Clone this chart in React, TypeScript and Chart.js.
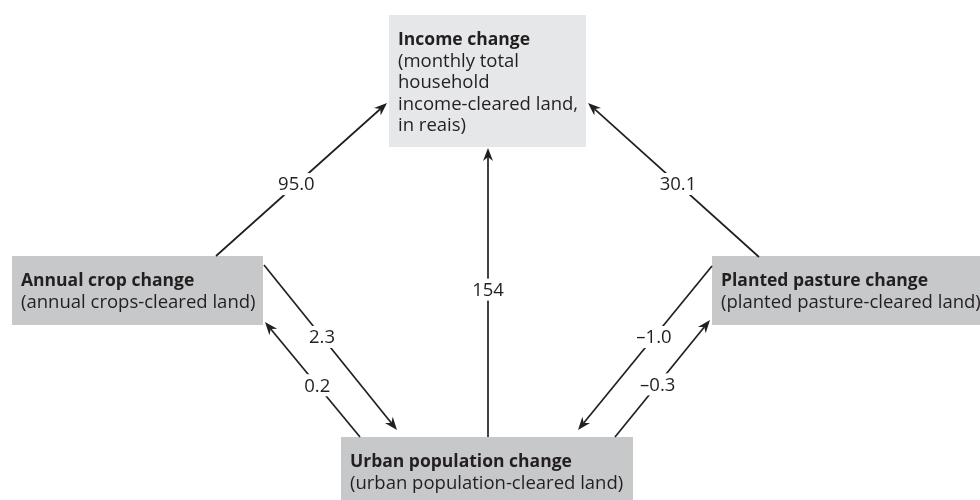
import React, { useEffect, useRef } from "react";
import { Chart, registerables } from "chart.js";

Chart.register(...registerables);

// Nodes (diagram coordinates: x 0..980, y 0..500 top-down)
const nodeTitles = ["Income change", "Annual crop change", "Planted pasture change", "Urban population change"];
const nodeSubtitles = [
  ["(monthly total", "household", "income-cleared land,", "in reais)"],
  ["(annual crops-cleared land)"],
  ["(planted pasture-cleared land)"],
  ["(urban population-cleared land)"],
];
const nodeLeft = [389, 12, 712, 341];
const nodeRight = [586, 263, 1000, 633];
const nodeTop = [15, 256, 256, 437];
const nodeBottom = [147, 325, 325, 520];
const nodeShade = ["light", "dark", "dark", "dark"];

// Edges: path coefficients
const edgeValues = ["95.0", "30.1", "154", "2.3", "0.2", "\u20131.0", "\u20130.3"];
const edgeStartX = [216, 759, 488, 264, 360, 712, 615];
const edgeStartY = [256, 257, 437, 265, 437, 266, 437];
const edgeEndX = [387, 588, 488, 397, 265, 578, 710];
const edgeEndY = [103, 103, 148, 430, 322, 430, 320];
const edgeLabelT = [0.47, 0.474, 0.51, 0.436, 0.45, 0.433, 0.45];

const TEXT = "#231f20";
const FONT = "'Open Sans', 'Noto Sans', sans-serif";

const diagramPlugin = {
  id: "diagram",
  afterDatasetsDraw(chart: any) {
    const ctx = chart.ctx as CanvasRenderingContext2D;
    const xs = chart.scales.x;
    const ys = chart.scales.y;
    const px = (v: number) => xs.getPixelForValue(v);
    const py = (v: number) => ys.getPixelForValue(v);
    ctx.save();
    // boxes
    nodeTitles.forEach((title, i) => {
      const l = px(nodeLeft[i]);
      const r = px(nodeRight[i]);
      const t = py(nodeTop[i]);
      const b = py(nodeBottom[i]);
      ctx.fillStyle = nodeShade[i] === "light" ? "#e6e7e8" : "#c7c8ca";
      ctx.fillRect(l, t, r - l, b - t);
      ctx.fillStyle = TEXT;
      ctx.textAlign = "left";
      ctx.textBaseline = "alphabetic";
      let y = t + 30;
      ctx.font = `bold 17.5px ${FONT}`;
      ctx.fillText(title, l + 9, y);
      ctx.font = `18.5px ${FONT}`;
      nodeSubtitles[i].forEach((s) => {
        y += 21.5;
        ctx.fillText(s, l + 9, y);
      });
    });
    // edges
    edgeValues.forEach((label, i) => {
      const x1 = px(edgeStartX[i]);
      const y1 = py(edgeStartY[i]);
      const x2 = px(edgeEndX[i]);
      const y2 = py(edgeEndY[i]);
      const ang = Math.atan2(y2 - y1, x2 - x1);
      const len = 13;
      const hw = 5;
      const notch = 9;
      const bx = x2 - Math.cos(ang) * notch;
      const by = y2 - Math.sin(ang) * notch;
      ctx.strokeStyle = TEXT;
      ctx.lineWidth = 1.7;
      ctx.beginPath();
      ctx.moveTo(x1, y1);
      ctx.lineTo(bx, by);
      ctx.stroke();
      // arrowhead
      const cx = x2 - Math.cos(ang) * len;
      const cy = y2 - Math.sin(ang) * len;
      const nx = -Math.sin(ang);
      const ny = Math.cos(ang);
      ctx.fillStyle = TEXT;
      ctx.beginPath();
      ctx.moveTo(x2, y2);
      ctx.lineTo(cx + nx * hw, cy + ny * hw);
      ctx.lineTo(bx, by);
      ctx.lineTo(cx - nx * hw, cy - ny * hw);
      ctx.closePath();
      ctx.fill();
      // label
      const t = edgeLabelT[i];
      const lx = x1 + (x2 - x1) * t;
      const ly = y1 + (y2 - y1) * t;
      ctx.font = `18.5px ${FONT}`;
      const w = ctx.measureText(label).width;
      ctx.fillStyle = "#ffffff";
      ctx.fillRect(lx - w / 2 - 2, ly - 11, w + 4, 22);
      ctx.fillStyle = TEXT;
      ctx.textAlign = "center";
      ctx.textBaseline = "middle";
      ctx.fillText(label, lx, ly + 1);
    });
    ctx.restore();
  },
};

export default function App() {
  const ref = useRef<HTMLCanvasElement | null>(null);
  useEffect(() => {
    document.body.style.margin = "0";
    if (!ref.current) return;
    const chart = new Chart(ref.current, {
      type: "scatter",
      data: {
        datasets: [
          {
            data: nodeTitles.map((_, i) => ({
              x: (nodeLeft[i] + nodeRight[i]) / 2,
              y: (nodeTop[i] + nodeBottom[i]) / 2,
            })),
            pointRadius: 0,
          },
        ],
      },
      options: {
        animation: false,
        responsive: false,
        devicePixelRatio: 1,
        layout: { padding: 0 },
        plugins: { legend: { display: false }, tooltip: { enabled: false } },
        events: [],
        scales: {
          x: { type: "linear", min: 0, max: 980, display: false },
          y: { type: "linear", min: 0, max: 500, reverse: true, display: false },
        },
      },
      plugins: [diagramPlugin],
    });
    return () => chart.destroy();
  }, []);
  return (
    <div style={{ width: 980, height: 500, background: "#fff" }}>
      <canvas ref={ref} width={980} height={500} style={{ display: "block" }} />
    </div>
  );
}
